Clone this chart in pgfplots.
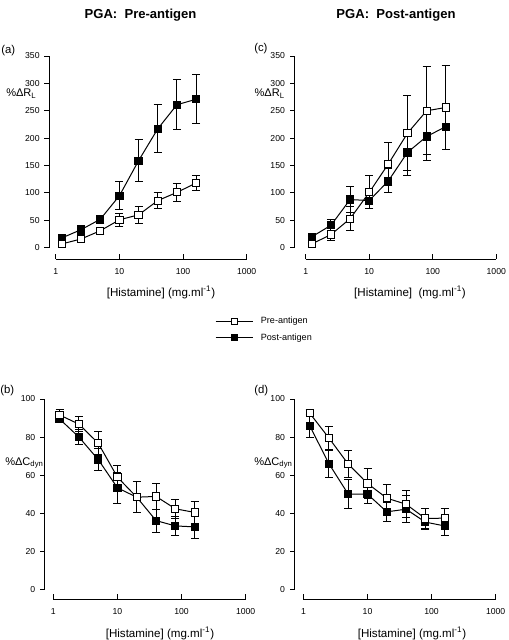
\documentclass[border=0pt]{standalone}
\usepackage{fontspec}
\setmainfont{Liberation Sans}
\usepackage{pgfplots}
\pgfplotsset{compat=1.18}
\usepackage{pgfplotstable}

% panel (a): R_L, pre-antigen challenge
\pgfplotstableread{
x y e
1.25 7 2
2.5 16 4
5 31 6
10 51 12
20 60 15
40 86 14
80 101 17
160 118 14
}\aPre
\pgfplotstableread{
x y e
1.25 18 3
2.5 33 8
5 52 7
10 95 25
20 159 38
40 217 44
80 261 46
160 271 45
}\aPost
% panel (c)
\pgfplotstableread{
x y e
1.25 7 3
2.5 24 11
5 53 22
10 101 30
20 153 39
40 209 68
80 250 80
160 256 77
}\cPre
\pgfplotstableread{
x y e
1.25 20 3
2.5 41 10
5 88 24
10 86 15
20 122 22
40 174 42
80 203 44
160 221 41
}\cPost
% panel (b)
\pgfplotstableread{
x y e
1.25 91.6 3
2.5 86.8 4
5 76.8 6
10 58.9 6
20 48.4 8
40 48.8 7
80 42.3 5
160 40.4 6
}\bPre
\pgfplotstableread{
x y e
1.25 89.5 2
2.5 80 4
5 68.2 6
10 53.3 8
20 48.4 8
40 36.1 6
80 33.3 5
160 32.8 6
}\bPost
% panel (d)
\pgfplotstableread{
x y e
1.25 92.6 2
2.5 79.5 6
5 65.8 7
10 55.6 8
20 47.9 7
40 44.7 7
80 37.2 5
160 37.4 5
}\dPre
\pgfplotstableread{
x y e
1.25 86 6
2.5 66 7
5 50 7.5
10 50 5
20 40.7 5
40 42.1 7
80 35.3 4
160 33.3 5
}\dPost

\pgfplotsset{
  every axis/.append style={
    scale only axis, clip=false,
    axis x line*=bottom, axis y line*=left,
    axis line style={draw=none},
    xtick={1,10,100,1000}, xticklabels={1,10,100,1000},
    tick align=outside,
    major tick length=3.75pt,
    minor tick length=0pt,
    tick style={draw=none},
    tick label style={font=\fontsize{6.5}{8}\selectfont},
  },
}

\begin{document}
\begin{tikzpicture}
\useasboundingbox (0,0) rectangle (381pt,-480pt);

% (a)
\begin{semilogxaxis}[at={(37pt,-194.25pt)}, anchor=south west,
  width=148pt, height=152.25pt,
  xmin=0.79, xmax=1000, ymin=-20.6, ymax=350,
  ytick={0,50,100,150,200,250,300,350},
  yticklabels={0,50,100,150,200,250,300,350}]
  \addplot+[black, line width=0.75pt, mark=square*, mark size=2.7pt,
    mark options={solid, fill=black},
    error bars/.cd, y dir=both, y explicit,
    error bar style={line width=0.75pt, black},
    error mark options={rotate=90, mark size=3pt, line width=0.75pt, black}]
    table[x=x, y=y, y error=e] {\aPost};
  \addplot+[black, line width=0.75pt, mark=square*, mark size=2.7pt,
    mark options={solid, fill=white},
    error bars/.cd, y dir=both, y explicit,
    error bar style={line width=0.75pt, black},
    error mark options={rotate=90, mark size=3pt, line width=0.75pt, black}]
    table[x=x, y=y, y error=e] {\aPre};
  \draw[line width=0.75pt] (axis cs:1,-20.6) -- (axis cs:1000,-20.6);
  \draw[line width=0.75pt] (axis cs:0.79,0) -- (axis cs:0.79,350);
  \draw[line width=0.75pt] (axis cs:1,-20.6) -- ++(0pt,3.75pt)
    (axis cs:10,-20.6) -- ++(0pt,3.75pt) (axis cs:100,-20.6) -- ++(0pt,3.75pt)
    (axis cs:1000,-20.6) -- ++(0pt,3.75pt);
  \draw[line width=0.75pt] (axis cs:0.79,0) -- ++(-3.75pt,0pt)
    (axis cs:0.79,50) -- ++(-3.75pt,0pt) (axis cs:0.79,100) -- ++(-3.75pt,0pt)
    (axis cs:0.79,150) -- ++(-3.75pt,0pt) (axis cs:0.79,200) -- ++(-3.75pt,0pt)
    (axis cs:0.79,250) -- ++(-3.75pt,0pt) (axis cs:0.79,300) -- ++(-3.75pt,0pt)
    (axis cs:0.79,350) -- ++(-3.75pt,0pt);
\end{semilogxaxis}

% (c)
\begin{semilogxaxis}[at={(221pt,-194.25pt)}, anchor=south west,
  width=151.2pt, height=152.25pt,
  xmin=0.67, xmax=1000, ymin=-20.6, ymax=350,
  ytick={0,50,100,150,200,250,300,350},
  yticklabels={0,50,100,150,200,250,300,350}]
  \addplot+[black, line width=0.75pt, mark=square*, mark size=2.7pt,
    mark options={solid, fill=black},
    error bars/.cd, y dir=both, y explicit,
    error bar style={line width=0.75pt, black},
    error mark options={rotate=90, mark size=3pt, line width=0.75pt, black}]
    table[x=x, y=y, y error=e] {\cPost};
  \addplot+[black, line width=0.75pt, mark=square*, mark size=2.7pt,
    mark options={solid, fill=white},
    error bars/.cd, y dir=both, y explicit,
    error bar style={line width=0.75pt, black},
    error mark options={rotate=90, mark size=3pt, line width=0.75pt, black}]
    table[x=x, y=y, y error=e] {\cPre};
  \draw[line width=0.75pt] (axis cs:1,-20.6) -- (axis cs:1000,-20.6);
  \draw[line width=0.75pt] (axis cs:0.67,0) -- (axis cs:0.67,350);
  \draw[line width=0.75pt] (axis cs:1,-20.6) -- ++(0pt,3.75pt)
    (axis cs:10,-20.6) -- ++(0pt,3.75pt) (axis cs:100,-20.6) -- ++(0pt,3.75pt)
    (axis cs:1000,-20.6) -- ++(0pt,3.75pt);
  \draw[line width=0.75pt] (axis cs:0.67,0) -- ++(-3.75pt,0pt)
    (axis cs:0.67,50) -- ++(-3.75pt,0pt) (axis cs:0.67,100) -- ++(-3.75pt,0pt)
    (axis cs:0.67,150) -- ++(-3.75pt,0pt) (axis cs:0.67,200) -- ++(-3.75pt,0pt)
    (axis cs:0.67,250) -- ++(-3.75pt,0pt) (axis cs:0.67,300) -- ++(-3.75pt,0pt)
    (axis cs:0.67,350) -- ++(-3.75pt,0pt);
\end{semilogxaxis}

% (b)
\begin{semilogxaxis}[at={(33.75pt,-449.25pt)}, anchor=south west,
  width=150.5pt, height=150pt,
  xmin=0.74, xmax=1000, ymin=-5.1, ymax=100,
  ytick={0,20,40,60,80,100},
  yticklabels={0,20,40,60,80,100},
  reverse legend,
  legend style={draw=none, fill=none, inner sep=0pt,
    at={(axis description cs:0.847,1.3475)}, anchor=west,
    font=\fontsize{6.8}{8}\selectfont, row sep=3pt,
    nodes={inner sep=1.5pt}},
  legend cell align=left,
  legend image code/.code={%
    \draw[mark repeat=2, mark phase=2, #1, mark size=2.2pt]
      plot coordinates {(0pt,0pt) (14pt,0pt) (28pt,0pt)};}]
  \addplot+[black, line width=0.75pt, mark=square*, mark size=2.7pt,
    mark options={solid, fill=black},
    error bars/.cd, y dir=both, y explicit,
    error bar style={line width=0.75pt, black},
    error mark options={rotate=90, mark size=3pt, line width=0.75pt, black}]
    table[x=x, y=y, y error=e] {\bPost};
  \addlegendentry{\hspace{4pt}Post-antigen}
  \addplot+[black, line width=0.75pt, mark=square*, mark size=2.7pt,
    mark options={solid, fill=white},
    error bars/.cd, y dir=both, y explicit,
    error bar style={line width=0.75pt, black},
    error mark options={rotate=90, mark size=3pt, line width=0.75pt, black}]
    table[x=x, y=y, y error=e] {\bPre};
  \addlegendentry{\hspace{4pt}Pre-antigen}
  \draw[line width=0.75pt] (axis cs:1,-5.1) -- (axis cs:1000,-5.1);
  \draw[line width=0.75pt] (axis cs:0.74,0) -- (axis cs:0.74,100);
  \draw[line width=0.75pt] (axis cs:1,-5.1) -- ++(0pt,3.75pt)
    (axis cs:10,-5.1) -- ++(0pt,3.75pt) (axis cs:100,-5.1) -- ++(0pt,3.75pt)
    (axis cs:1000,-5.1) -- ++(0pt,3.75pt);
  \draw[line width=0.75pt] (axis cs:0.74,0) -- ++(-3.75pt,0pt)
    (axis cs:0.74,20) -- ++(-3.75pt,0pt) (axis cs:0.74,40) -- ++(-3.75pt,0pt)
    (axis cs:0.74,60) -- ++(-3.75pt,0pt) (axis cs:0.74,80) -- ++(-3.75pt,0pt)
    (axis cs:0.74,100) -- ++(-3.75pt,0pt);
\end{semilogxaxis}

% (d)
\begin{semilogxaxis}[at={(221pt,-449.25pt)}, anchor=south west,
  width=150.75pt, height=150pt,
  xmin=0.73, xmax=1000, ymin=-5.1, ymax=100,
  ytick={0,20,40,60,80,100},
  yticklabels={0,20,40,60,80,100}]
  \addplot+[black, line width=0.75pt, mark=square*, mark size=2.7pt,
    mark options={solid, fill=black},
    error bars/.cd, y dir=both, y explicit,
    error bar style={line width=0.75pt, black},
    error mark options={rotate=90, mark size=3pt, line width=0.75pt, black}]
    table[x=x, y=y, y error=e] {\dPost};
  \addplot+[black, line width=0.75pt, mark=square*, mark size=2.7pt,
    mark options={solid, fill=white},
    error bars/.cd, y dir=both, y explicit,
    error bar style={line width=0.75pt, black},
    error mark options={rotate=90, mark size=3pt, line width=0.75pt, black}]
    table[x=x, y=y, y error=e] {\dPre};
  \draw[line width=0.75pt] (axis cs:1,-5.1) -- (axis cs:1000,-5.1);
  \draw[line width=0.75pt] (axis cs:0.73,0) -- (axis cs:0.73,100);
  \draw[line width=0.75pt] (axis cs:1,-5.1) -- ++(0pt,3.75pt)
    (axis cs:10,-5.1) -- ++(0pt,3.75pt) (axis cs:100,-5.1) -- ++(0pt,3.75pt)
    (axis cs:1000,-5.1) -- ++(0pt,3.75pt);
  \draw[line width=0.75pt] (axis cs:0.73,0) -- ++(-3.75pt,0pt)
    (axis cs:0.73,20) -- ++(-3.75pt,0pt) (axis cs:0.73,40) -- ++(-3.75pt,0pt)
    (axis cs:0.73,60) -- ++(-3.75pt,0pt) (axis cs:0.73,80) -- ++(-3.75pt,0pt)
    (axis cs:0.73,100) -- ++(-3.75pt,0pt);
\end{semilogxaxis}

% titles
\node[font=\bfseries\fontsize{9.8}{11}\selectfont] at (105.4pt,-11.25pt) {PGA:\ \ Pre-antigen};
\node[font=\bfseries\fontsize{9.8}{11}\selectfont] at (297pt,-11.25pt) {PGA:\ \ Post-antigen};
% panel letters
\node[font=\fontsize{8.5}{10}\selectfont, anchor=west, inner sep=0pt] at (0.75pt,-38.25pt) {(a)};
\node[font=\fontsize{8.5}{10}\selectfont, anchor=west, inner sep=0pt] at (190.5pt,-36.75pt) {(c)};
\node[font=\fontsize{8.5}{10}\selectfont, anchor=west, inner sep=0pt] at (0pt,-293.25pt) {(b)};
\node[font=\fontsize{8.5}{10}\selectfont, anchor=west, inner sep=0pt] at (190.5pt,-293.25pt) {(d)};
% y labels
\node[font=\fontsize{8.3}{10}\selectfont, anchor=base west, inner sep=0pt] at (4.5pt,-72.5pt) {\%ΔR\textsubscript{L}};
\node[font=\fontsize{8.3}{10}\selectfont, anchor=base west, inner sep=0pt] at (190.75pt,-72.5pt) {\%ΔR\textsubscript{L}};
\node[font=\fontsize{8.3}{10}\selectfont, anchor=base west, inner sep=0pt] at (3.75pt,-348.75pt) {\%ΔC\textsubscript{dyn}};
\node[font=\fontsize{8.3}{10}\selectfont, anchor=base west, inner sep=0pt] at (190.5pt,-348.75pt) {\%ΔC\textsubscript{dyn}};
% x labels
\node[font=\fontsize{8.7}{10}\selectfont] at (120.75pt,-219pt) {[Histamine] (mg.ml\textsuperscript{-1})};
\node[font=\fontsize{8.7}{10}\selectfont] at (307.5pt,-219pt) {[Histamine]\ \ (mg.ml\textsuperscript{-1})};
\node[font=\fontsize{8.7}{10}\selectfont] at (120pt,-474.75pt) {[Histamine] (mg.ml\textsuperscript{-1})};
\node[font=\fontsize{8.7}{10}\selectfont] at (309pt,-474.75pt) {[Histamine] (mg.ml\textsuperscript{-1})};
\end{tikzpicture}
\end{document}
